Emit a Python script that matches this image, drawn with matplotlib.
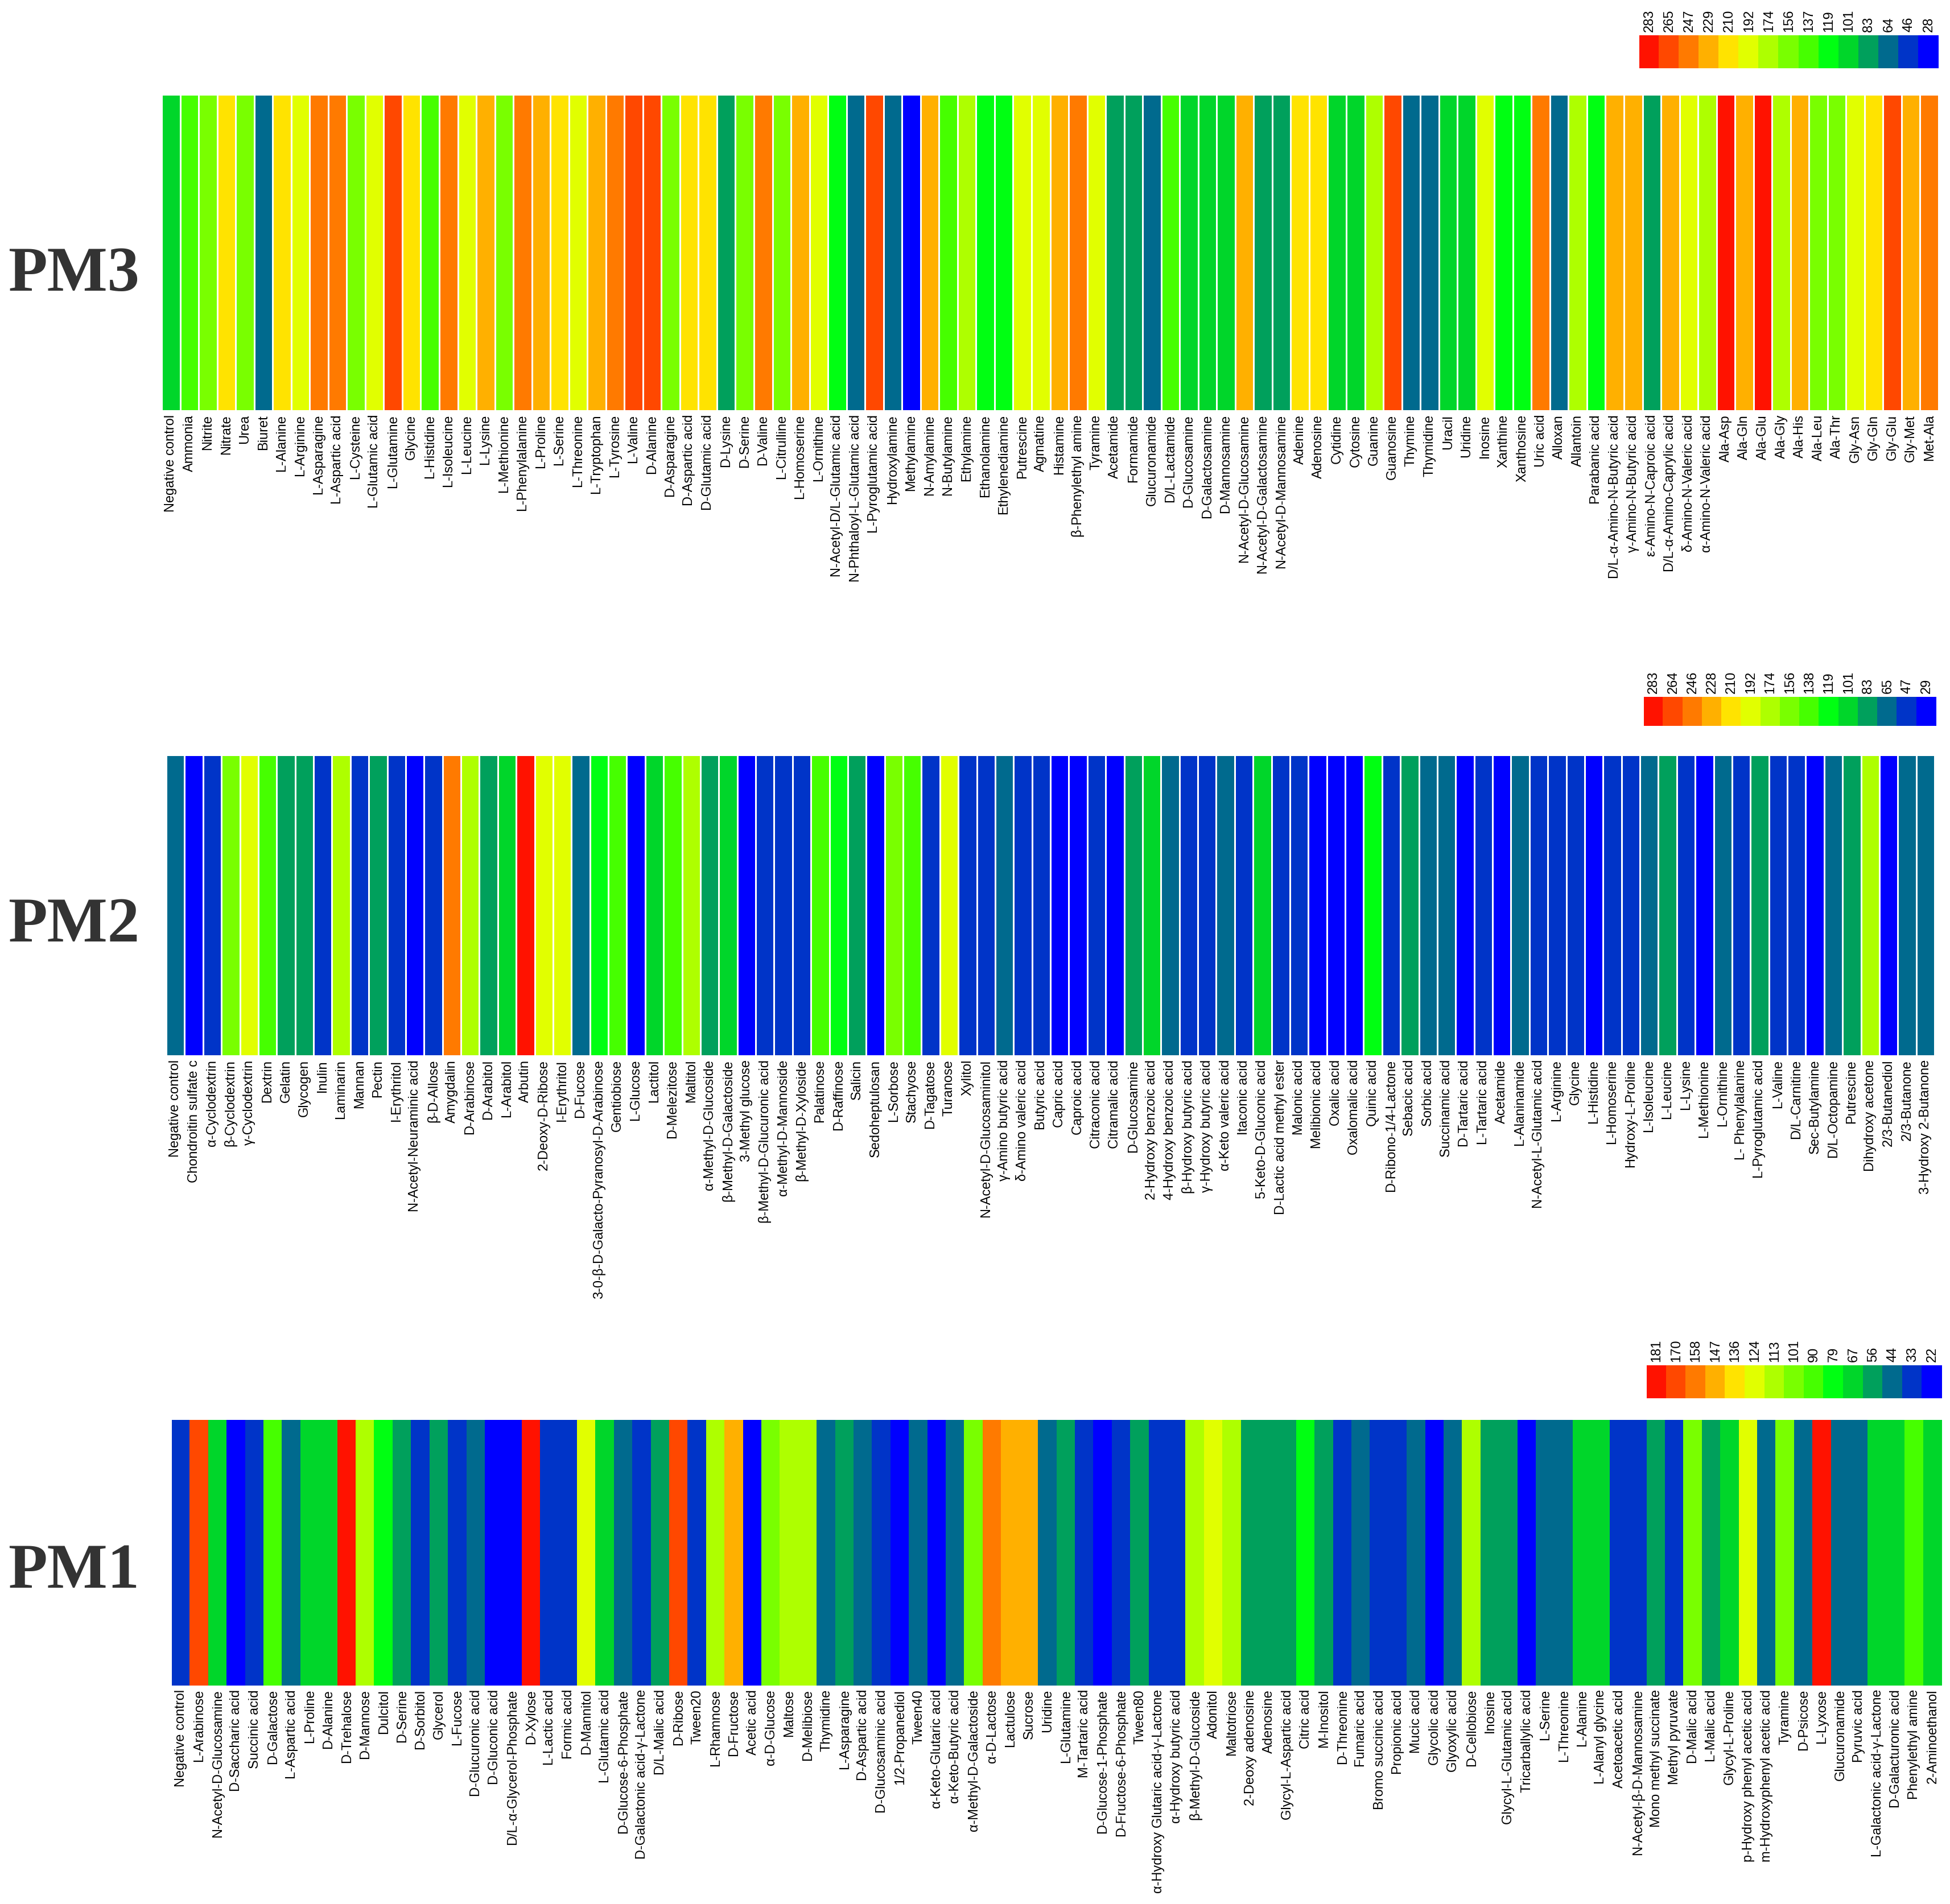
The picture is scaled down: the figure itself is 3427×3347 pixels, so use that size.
import numpy as np
import matplotlib
matplotlib.use("Agg")
import matplotlib.pyplot as plt
from matplotlib.colors import ListedColormap, BoundaryNorm

# ---------------- data ----------------
palette_high_to_low = ["#FF1200", "#FF4800", "#FF7A00", "#FFB000", "#FFE300",
                       "#E1FF00", "#AEFF00", "#79FF00", "#46FF00", "#00FF12",
                       "#00D62A", "#00A05C", "#006A8E", "#0034C8", "#0000FF"]

pm3_levels = [283, 265, 247, 229, 210, 192, 174, 156, 137, 119, 101, 83, 64, 46, 28]
pm2_levels = [283, 264, 246, 228, 210, 192, 174, 156, 138, 119, 101, 83, 65, 47, 29]
pm1_levels = [181, 170, 158, 147, 136, 124, 113, 101, 90, 79, 67, 56, 44, 33, 22]

pm3_labels = ["Negative control", "Ammonia", "Nitrite", "Nitrate", "Urea", "Biuret", "L-Alanine",
              "L-Arginine", "L-Asparagine", "L-Aspartic acid", "L-Cysteine", "L-Glutamic acid",
              "L-Glutamine", "Glycine", "L-Histidine", "L-Isoleucine", "L-Leucine", "L-Lysine",
              "L-Methionine", "L-Phenylalanine", "L-Proline", "L-Serine", "L-Threonine",
              "L-Tryptophan", "L-Tyrosine", "L-Valine", "D-Alanine", "D-Asparagine",
              "D-Aspartic acid", "D-Glutamic acid", "D-Lysine", "D-Serine", "D-Valine",
              "L-Citrulline", "L-Homoserine", "L-Ornithine", "N-Acetyl-D/L-Glutamic acid",
              "N-Phthaloyl-L-Glutamic acid", "L-Pyroglutamic acid", "Hydroxylamine", "Methylamine",
              "N-Amylamine", "N-Butylamine", "Ethylamine", "Ethanolamine", "Ethylenediamine",
              "Putrescine", "Agmatine", "Histamine", "β-Phenylethyl amine", "Tyramine", "Acetamide",
              "Formamide", "Glucuronamide", "D/L-Lactamide", "D-Glucosamine", "D-Galactosamine",
              "D-Mannosamine", "N-Acetyl-D-Glucosamine", "N-Acetyl-D-Galactosamine",
              "N-Acetyl-D-Mannosamine", "Adenine", "Adenosine", "Cytidine", "Cytosine", "Guanine",
              "Guanosine", "Thymine", "Thymidine", "Uracil", "Uridine", "Inosine", "Xanthine",
              "Xanthosine", "Uric acid", "Alloxan", "Allantoin", "Parabanic acid",
              "D/L-α-Amino-N-Butyric acid", "γ-Amino-N-Butyric acid", "ε-Amino-N-Caproic acid",
              "D/L-α-Amino-Caprylic acid", "δ-Amino-N-Valeric acid", "α-Amino-N-Valeric acid",
              "Ala-Asp", "Ala-Gln", "Ala-Glu", "Ala-Gly", "Ala-His", "Ala-Leu", "Ala-Thr",
              "Gly-Asn", "Gly-Gln", "Gly-Glu", "Gly-Met", "Met-Ala"]
pm3_values = [101, 137, 156, 210, 156, 64, 210, 192, 247, 247, 156, 192,
              265, 210, 137, 247, 192, 229, 156, 247, 229, 210, 192, 229,
              247, 265, 265, 156, 210, 210, 83, 156, 247, 156, 229, 192,
              119, 64, 265, 64, 28, 229, 137, 174, 119, 119, 192, 192,
              229, 247, 192, 83, 83, 64, 137, 101, 101, 101, 229, 83,
              83, 210, 210, 101, 101, 174, 265, 64, 64, 101, 101, 192,
              119, 119, 247, 64, 174, 119, 229, 229, 83, 229, 192, 174,
              283, 229, 283, 174, 229, 156, 156, 192, 210, 265, 229, 247]

pm2_labels = ["Negative control", "Chondroitin sulfate c", "α-Cyclodextrin", "β-Cyclodextrin",
              "γ-Cyclodextrin", "Dextrin", "Gelatin", "Glycogen", "Inulin", "Laminarin", "Mannan",
              "Pectin", "I-Erythritol", "N-Acetyl-Neuraminic acid", "β-D-Allose", "Amygdalin",
              "D-Arabinose", "D-Arabitol", "L-Arabitol", "Arbutin", "2-Deoxy-D-Ribose",
              "I-Erythritol", "D-Fucose", "3-0-β-D-Galacto-Pyranosyl-D-Arabinose", "Gentiobiose",
              "L-Glucose", "Lactitol", "D-Melezitose", "Maltitol", "α-Methyl-D-Glucoside",
              "β-Methyl-D-Galactoside", "3-Methyl glucose", "β-Methyl-D-Glucuronic acid",
              "α-Methyl-D-Mannoside", "β-Methyl-D-Xyloside", "Palatinose", "D-Raffinose", "Salicin",
              "Sedoheptulosan", "L-Sorbose", "Stachyose", "D-Tagatose", "Turanose", "Xylitol",
              "N-Acetyl-D-Glucosaminitol", "γ-Amino butyric acid", "δ-Amino valeric acid",
              "Butyric acid", "Capric acid", "Caproic acid", "Citraconic acid", "Citramalic acid",
              "D-Glucosamine", "2-Hydroxy benzoic acid", "4-Hydroxy benzoic acid",
              "β-Hydroxy butyric acid", "γ-Hydroxy butyric acid", "α-Keto valeric acid",
              "Itaconic acid", "5-Keto-D-Gluconic acid", "D-Lactic acid methyl ester",
              "Malonic acid", "Melibionic acid", "Oxalic acid", "Oxalomalic acid", "Quinic acid",
              "D-Ribono-1/4-Lactone", "Sebacic acid", "Sorbic acid", "Succinamic acid",
              "D-Tartaric acid", "L-Tartaric acid", "Acetamide", "L-Alaninamide",
              "N-Acetyl-L-Glutamic acid", "L-Arginine", "Glycine", "L-Histidine", "L-Homoserine",
              "Hydroxy-L-Proline", "L-Isoleucine", "L-Leucine", "L-Lysine", "L-Methionine",
              "L-Ornithine", "L- Phenylalanine", "L-Pyroglutamic acid", "L-Valine", "D/L-Carnitine",
              "Sec-Butylamine", "D/L-Octopamine", "Putrescine", "Dihydroxy acetone",
              "2/3-Butanediol", "2/3-Butanone", "3-Hydroxy 2-Butanone"]
pm2_values = [65, 29, 47, 156, 192, 138, 83, 83, 47, 174, 47, 83,
              47, 29, 47, 246, 174, 83, 101, 283, 192, 192, 65, 119,
              138, 29, 101, 138, 174, 83, 101, 29, 47, 47, 47, 138,
              119, 83, 29, 156, 138, 47, 192, 47, 47, 65, 47, 47,
              29, 29, 47, 29, 83, 101, 65, 47, 47, 65, 47, 101,
              47, 47, 29, 29, 29, 119, 47, 83, 65, 65, 29, 47,
              29, 65, 47, 47, 47, 29, 47, 47, 65, 83, 47, 29,
              65, 47, 83, 47, 47, 29, 65, 83, 174, 29, 65, 65]

pm1_labels = ["Negative control", "L-Arabinose", "N-Acetyl-D-Glucosamine", "D-Saccharic acid",
              "Succinic acid", "D-Galactose", "L-Aspartic acid", "L-Proline", "D-Alanine",
              "D-Trehalose", "D-Mannose", "Dulcitol", "D-Serine", "D-Sorbitol", "Glycerol",
              "L-Fucose", "D-Glucuronic acid", "D-Gluconic acid", "D/L-α-Glycerol-Phosphate",
              "D-Xylose", "L-Lactic acid", "Formic acid", "D-Mannitol", "L-Glutamic acid",
              "D-Glucose-6-Phosphate", "D-Galactonic acid-γ-Lactone", "D/L-Malic acid", "D-Ribose",
              "Tween20", "L-Rhamnose", "D-Fructose", "Acetic acid", "α-D-Glucose", "Maltose",
              "D-Melibiose", "Thymidine", "L-Asparagine", "D-Aspartic acid", "D-Glucosaminic acid",
              "1/2-Propanediol", "Tween40", "α-Keto-Glutaric acid", "α-Keto-Butyric acid",
              "α-Methyl-D-Galactoside", "α-D-Lactose", "Lactulose", "Sucrose", "Uridine",
              "L-Glutamine", "M-Tartaric acid", "D-Glucose-1-Phosphate", "D-Fructose-6-Phosphate",
              "Tween80", "α-Hydroxy Glutaric acid-γ-Lactone", "α-Hydroxy butyric acid",
              "β-Methyl-D-Glucoside", "Adonitol", "Maltotriose", "2-Deoxy adenosine", "Adenosine",
              "Glycyl-L-Aspartic acid", "Citric acid", "M-Inositol", "D-Threonine", "Fumaric acid",
              "Bromo succinic acid", "Propionic acid", "Mucic acid", "Glycolic acid",
              "Glyoxylic acid", "D-Cellobiose", "Inosine", "Glycyl-L-Glutamic acid",
              "Tricarballylic acid", "L-Serine", "L-Threonine", "L-Alanine", "L-Alanyl glycine",
              "Acetoacetic acid", "N-Acetyl-β-D-Mannosamine", "Mono methyl succinate",
              "Methyl pyruvate", "D-Malic acid", "L-Malic acid", "Glycyl-L-Proline",
              "p-Hydroxy phenyl acetic acid", "m-Hydroxyphenyl acetic acid", "Tyramine",
              "D-Psicose", "L-Lyxose", "Glucuronamide", "Pyruvic acid",
              "L-Galactonic acid-γ-Lactone", "D-Galacturonic acid", "Phenylethyl amine",
              "2-Aminoethanol"]
pm1_values = [33, 170, 67, 22, 33, 90, 44, 67, 67, 181, 113, 79,
              56, 33, 56, 33, 44, 22, 22, 181, 33, 33, 124, 67,
              44, 33, 56, 170, 33, 113, 147, 22, 101, 113, 113, 44,
              56, 44, 33, 22, 44, 22, 44, 101, 158, 147, 147, 44,
              56, 33, 22, 33, 56, 33, 33, 113, 124, 113, 56, 56,
              56, 79, 56, 33, 44, 33, 33, 44, 22, 44, 113, 56,
              56, 22, 44, 44, 67, 67, 33, 33, 56, 33, 101, 56,
              67, 124, 44, 101, 44, 181, 44, 44, 67, 67, 90, 67]

panel_names = ["PM3", "PM2", "PM1"]

# ---------------- layout (pixels) ----------------
W, H = 3427, 3347
fig = plt.figure(figsize=(W / 100, H / 100), dpi=100)
fig.patch.set_facecolor("white")

def px_axes(x0, y0, x1, y1):
    return fig.add_axes([x0 / W, 1 - y1 / H, (x1 - x0) / W, (y1 - y0) / H])

panels = [
    dict(name="PM3", labels=pm3_labels, values=pm3_values, levels=pm3_levels,
         heat=(284, 166, 3407, 722), cbar=(2881, 62, 3407, 120), txt=(130, 484), edges=True),
    dict(name="PM2", labels=pm2_labels, values=pm2_values, levels=pm2_levels,
         heat=(292, 1327, 3400, 1856), cbar=(2889, 1225, 3403, 1276), txt=(130, 1628), edges=True),
    dict(name="PM1", labels=pm1_labels, values=pm1_values, levels=pm1_levels,
         heat=(302, 2496, 3413, 2963), cbar=(2894, 2400, 3413, 2458), txt=(130, 2764), edges=False),
]

label_font = ["Liberation Sans", "DejaVu Sans"]

for p in panels:
    lev_asc = np.array(sorted(p["levels"]), dtype=float)
    d = np.diff(lev_asc)
    bounds = np.concatenate([[lev_asc[0] - d[0] / 2], (lev_asc[:-1] + lev_asc[1:]) / 2,
                             [lev_asc[-1] + d[-1] / 2]])
    cmap = ListedColormap(palette_high_to_low[::-1])
    norm = BoundaryNorm(bounds, cmap.N)

    # heatmap strip
    ax = px_axes(*p["heat"])
    vals = np.array([p["values"]], dtype=float)
    n = vals.shape[1]
    if p["edges"]:
        ax.pcolormesh(np.arange(n + 1), [0, 1], vals, cmap=cmap, norm=norm,
                      edgecolors="white", linewidth=1.0)
    else:
        ax.pcolormesh(np.arange(n + 1), [0, 1], vals, cmap=cmap, norm=norm,
                      edgecolors="face", linewidth=0.3)
    ax.set_xlim(0, n)
    ax.set_ylim(0, 1)
    ax.set_yticks([])
    ax.set_xticks(np.arange(n) + 0.5)
    ax.set_xticklabels(p["labels"], rotation=90, fontsize=17, family=label_font)
    ax.tick_params(axis="x", length=0, pad=5)
    for s in ax.spines.values():
        s.set_visible(False)

    # colour key
    cax = px_axes(*p["cbar"])
    levs = np.array([p["levels"]], dtype=float)
    m = levs.shape[1]
    cax.pcolormesh(np.arange(m + 1), [0, 1], levs, cmap=cmap, norm=norm,
                   edgecolors="face", linewidth=0.3)
    cax.set_xlim(0, m)
    cax.set_ylim(0, 1)
    cax.set_yticks([])
    cax.xaxis.tick_top()
    cax.set_xticks(np.arange(m) + 0.5)
    cax.set_xticklabels([str(v) for v in p["levels"]], rotation=90, fontsize=17,
                        family=label_font)
    cax.tick_params(axis="x", length=0, pad=4)
    for s in cax.spines.values():
        s.set_visible(False)

    # panel title
    tx, ty = p["txt"]
    fig.text(tx / W, 1 - ty / H, p["name"], ha="center", va="center",
             fontsize=81, fontweight="bold", family=["Liberation Serif", "DejaVu Serif"],
             color="#333333")

fig.savefig("out.png", dpi=100, facecolor="white")
